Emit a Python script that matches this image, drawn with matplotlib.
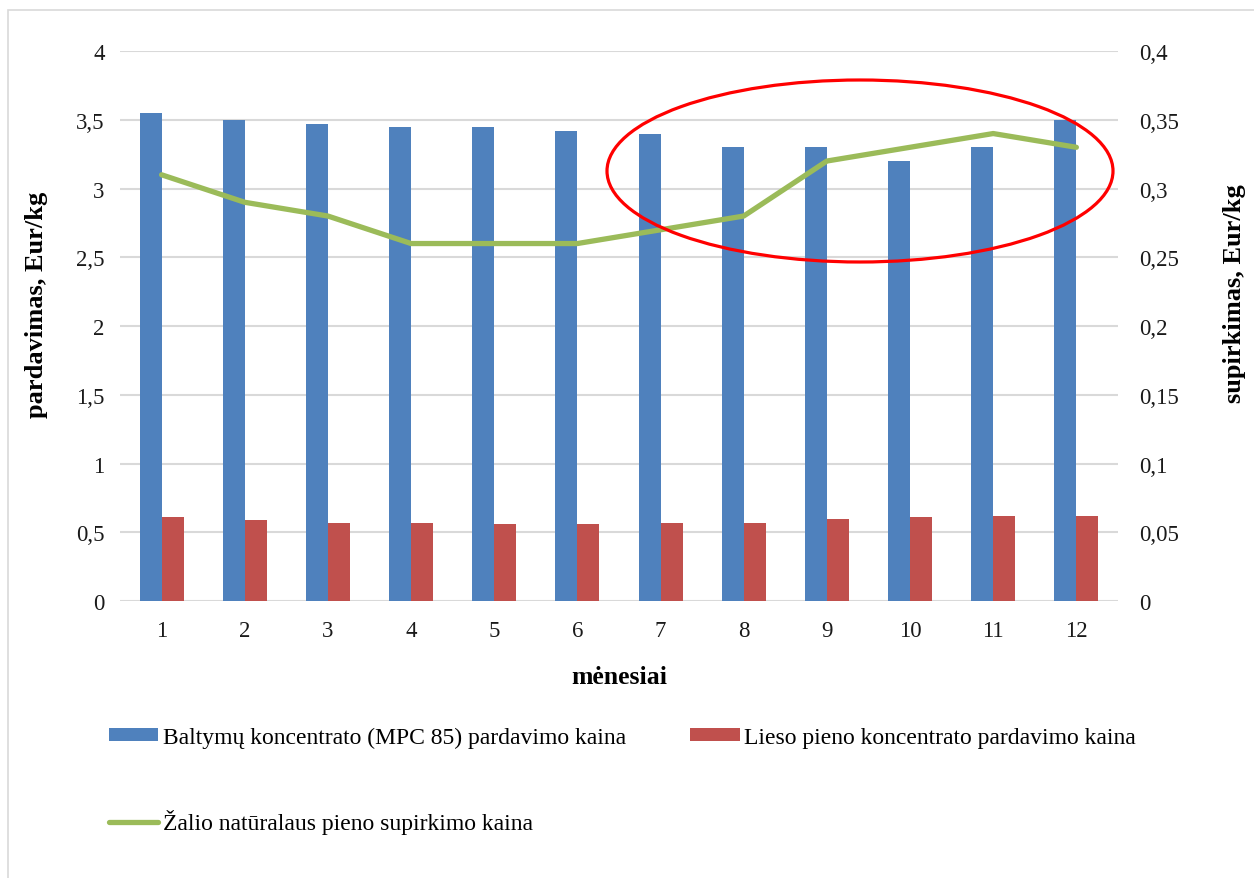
import matplotlib
matplotlib.use("Agg")
import matplotlib.pyplot as plt
from matplotlib.patches import Ellipse, Rectangle
import numpy as np

months = [1, 2, 3, 4, 5, 6, 7, 8, 9, 10, 11, 12]
mpc85 = [3.55, 3.50, 3.47, 3.45, 3.45, 3.42, 3.40, 3.30, 3.30, 3.20, 3.30, 3.50]
skim = [0.61, 0.59, 0.57, 0.57, 0.56, 0.56, 0.57, 0.57, 0.60, 0.61, 0.62, 0.62]
raw_milk = [0.31, 0.29, 0.28, 0.26, 0.26, 0.26, 0.27, 0.28, 0.32, 0.33, 0.34, 0.33]

left_ticks = [0, 0.5, 1, 1.5, 2, 2.5, 3, 3.5, 4]
left_labels = ["0", "0,5", "1", "1,5", "2", "2,5", "3", "3,5", "4"]
right_ticks = [0, 0.05, 0.1, 0.15, 0.2, 0.25, 0.3, 0.35, 0.4]
right_labels = ["0", "0,05", "0,1", "0,15", "0,2", "0,25", "0,3", "0,35", "0,4"]

names = ["Baltymų koncentrato (MPC 85) pardavimo kaina",
         "Lieso pieno koncentrato pardavimo kaina",
         "Žalio natūralaus pieno supirkimo kaina"]

blue, red, green = "#4f81bd", "#c0504d", "#9bbb59"
plt.rcParams["font.family"] = ["Liberation Serif", "DejaVu Serif"]

fig = plt.figure(figsize=(12.54, 8.79), dpi=100)
ax = fig.add_axes([0.0957, 0.3151, 0.7958, 0.6257])
ax2 = ax.twinx()

x = np.array(months)
w = 0.265
b1 = ax.bar(x - w / 2, mpc85, w, color=blue, label=names[0], zorder=2)
b2 = ax.bar(x + w / 2, skim, w, color=red, label=names[1], zorder=2)
ln, = ax2.plot(x, raw_milk, color=green, lw=3.8, label=names[2],
               solid_capstyle="round")

ax.set_xlim(0.5, 12.5)
ax.set_ylim(0, 4)
ax2.set_ylim(0, 0.4)
ax.set_yticks(left_ticks, left_labels)
ax2.set_yticks(right_ticks, right_labels)
ax.set_xticks(x, [str(m) for m in months])
ax.grid(axis="y", color="#d9d9d9", lw=1.5, zorder=0)
ax.set_axisbelow(True)

for a in (ax, ax2):
    for s in a.spines.values():
        s.set_visible(False)
    a.tick_params(length=0, labelsize=16.5, colors="#1a1a1a")
ax.tick_params(axis="y", pad=11)
ax2.tick_params(axis="y", pad=15)
ax.tick_params(axis="x", pad=14)

ax.set_xlabel("mėnesiai", fontsize=18.5, fontweight="bold", labelpad=17)
ax.set_ylabel("pardavimas, Eur/kg", fontsize=19, fontweight="bold")
ax2.set_ylabel("supirkimas, Eur/kg", fontsize=19, fontweight="bold")
ax.yaxis.set_label_coords(-0.072, 0.54)
ax2.yaxis.set_label_coords(1.105, 0.56)

# legend: blue and red on the first row, green line on the second
fig.legend([b1, ln, b2], [names[0], names[2], names[1]], ncol=2,
           loc="upper left", bbox_to_anchor=(0.079, 0.183),
           bbox_transform=fig.transFigure, frameon=False, fontsize=17,
           handlelength=2.1, handleheight=0.5, handletextpad=0.2,
           columnspacing=2.72, labelspacing=2.6, borderaxespad=0)

# highlight around the last months
fig.patches.append(Ellipse((860 / 1254, 1 - 172 / 879), 506 / 1254, 182 / 879,
                           transform=fig.transFigure, fill=False,
                           edgecolor="red", lw=2.3, zorder=5))
# chart area border
fig.patches.append(Rectangle((8 / 1254, -0.05), 1.2, 1 - 11 / 879 + 0.05,
                             transform=fig.transFigure, fill=False,
                             edgecolor="#d9d9d9", lw=1.2, zorder=-1))

fig.savefig("out.png", dpi=100)
